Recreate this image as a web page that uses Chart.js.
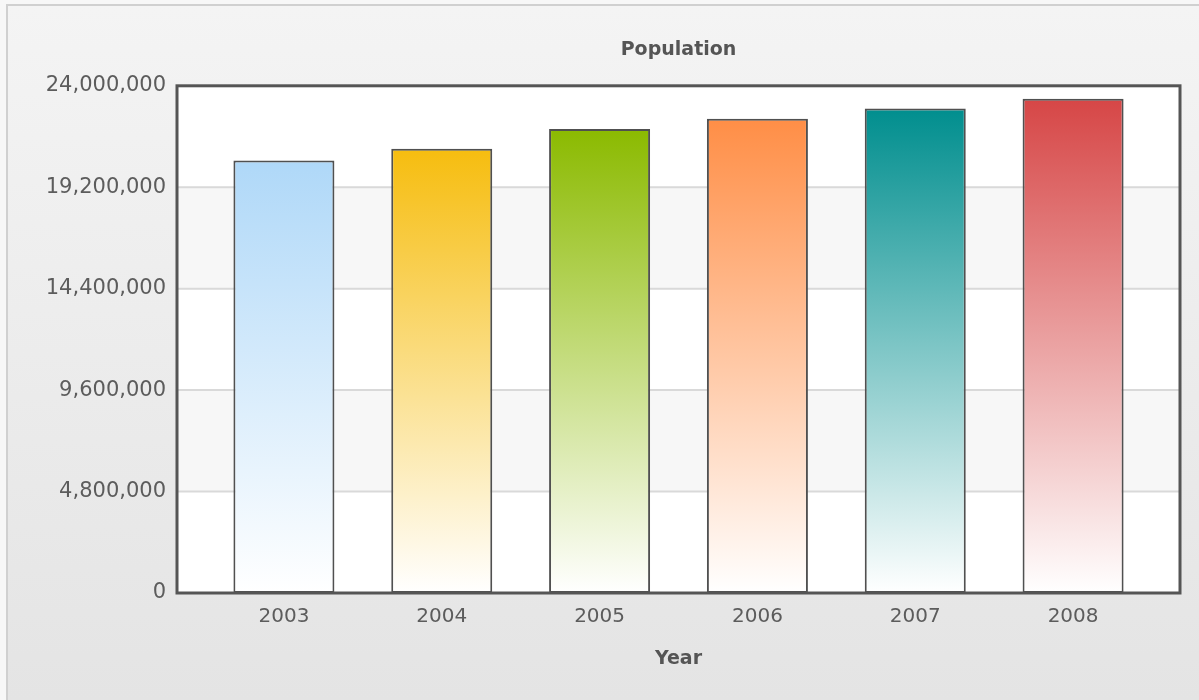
<!DOCTYPE html>
<html>
<head>
<meta charset="utf-8">
<title>Population</title>
<script src="https://cdn.jsdelivr.net/npm/chart.js@4.4.1/dist/chart.umd.min.js"></script>
<style>
  html, body { margin: 0; padding: 0; background: #f6f6f6; }
  #wrap { width: 1199px; height: 700px; }
</style>
</head>
<body>
<div id="wrap"><canvas id="popChart" width="1199" height="700"></canvas></div>
<script>
const years = ['2003', '2004', '2005', '2006', '2007', '2008'];
const population = [20460000, 21020000, 21960000, 22440000, 22930000, 23390000];
const barColors = ['#AFD8F8', '#F6BD0F', '#8BBA00', '#FF8E46', '#008E8E', '#D64646'];
const yMax = 24000000;
const yStep = 4800000;

// extra room between the plot frame and the first/last category
const PLOT_PAD = 28;

Chart.defaults.font.family = '"DejaVu Sans", Verdana, sans-serif';

const backdrop = {
    id: 'backdrop',
    beforeDraw(chart) {
        const { ctx, width, height, chartArea: a, scales: { y } } = chart;
        ctx.save();
        ctx.fillStyle = '#f7f7f7';
        ctx.fillRect(0, 0, width, height);
        const bg = ctx.createLinearGradient(0, 6, 0, height);
        bg.addColorStop(0, '#f4f4f4');
        bg.addColorStop(1, '#e4e4e4');
        ctx.fillStyle = bg;
        ctx.fillRect(7, 5, width - 7, height - 5);
        ctx.strokeStyle = '#d0d0d0';
        ctx.lineWidth = 2;
        ctx.beginPath();
        ctx.moveTo(7, height);
        ctx.lineTo(7, 5);
        ctx.lineTo(width, 5);
        ctx.stroke();

        const left = a.left - PLOT_PAD, right = a.right + PLOT_PAD;
        ctx.fillStyle = '#ffffff';
        ctx.fillRect(left, a.top, right - left, a.bottom - a.top);

        // alternate bands
        const ticks = y.ticks;
        ctx.fillStyle = '#f7f7f7';
        for (let i = 0; i < ticks.length - 1; i++) {
            if (i % 2 === 1) {
                const y0 = y.getPixelForValue(ticks[i].value);
                const y1 = y.getPixelForValue(ticks[i + 1].value);
                ctx.fillRect(left, y1, right - left, y0 - y1);
            }
        }
        // grid lines
        ctx.strokeStyle = '#d9d9d9';
        ctx.lineWidth = 2;
        for (let i = 1; i < ticks.length - 1; i++) {
            const py = y.getPixelForValue(ticks[i].value);
            ctx.beginPath();
            ctx.moveTo(left, py);
            ctx.lineTo(right, py);
            ctx.stroke();
        }
        ctx.restore();
    },
    afterDatasetsDraw(chart) {
        const { ctx, chartArea: a } = chart;
        const left = a.left - PLOT_PAD, right = a.right + PLOT_PAD;
        ctx.save();
        ctx.strokeStyle = '#555555';
        ctx.lineWidth = 3;
        ctx.strokeRect(left, a.top, right - left, a.bottom - a.top);
        ctx.restore();
    }
};

function barFill(context) {
    const chart = context.chart;
    const base = barColors[context.dataIndex];
    if (!chart.chartArea || context.type !== 'data') return base;
    const y = chart.scales.y;
    const top = y.getPixelForValue(context.raw);
    const bottom = y.getPixelForValue(0);
    const g = chart.ctx.createLinearGradient(0, top, 0, bottom);
    g.addColorStop(0, base);
    g.addColorStop(1, '#ffffff');
    return g;
}

const popChart = new Chart(document.getElementById('popChart').getContext('2d'), {
    type: 'bar',
    data: {
        labels: years,
        datasets: [{
            label: 'Population',
            data: population,
            backgroundColor: barFill,
            borderColor: '#505050',
            borderWidth: 2,
            borderSkipped: false,
            categoryPercentage: 1,
            barPercentage: 0.64,
        }]
    },
    options: {
        responsive: false,
        animation: false,
        layout: { padding: { top: 0, left: 0, right: 47, bottom: 0 } },
        scales: {
            x: {
                grid: { display: false, drawTicks: false },
                border: { display: false },
                ticks: { padding: 12, color: '#5c5c5c', font: { size: 20 } },
                title: {
                    display: true,
                    text: 'Year',
                    color: '#555555',
                    font: { size: 19, weight: 'bold' },
                    padding: { top: 0, bottom: 30 },
                },
                afterFit(scale) { scale.height = 107; },
            },
            y: {
                min: 0,
                max: yMax,
                grid: { display: false, drawTicks: false },
                border: { display: false },
                ticks: {
                    stepSize: yStep,
                    padding: 39,
                    color: '#5c5c5c',
                    font: { size: 21 },
                    callback: v => Number(v).toLocaleString('en-US'),
                },
                afterFit(scale) { scale.width = 205; },
            }
        },
        plugins: {
            legend: { display: false },
            tooltip: { enabled: false },
            title: {
                display: true,
                fullSize: false,
                text: 'Population',
                color: '#555555',
                font: { size: 19, weight: 'bold' },
                padding: { top: 39, bottom: 24 },
            },
        }
    },
    plugins: [backdrop],
});
</script>
</body>
</html>
